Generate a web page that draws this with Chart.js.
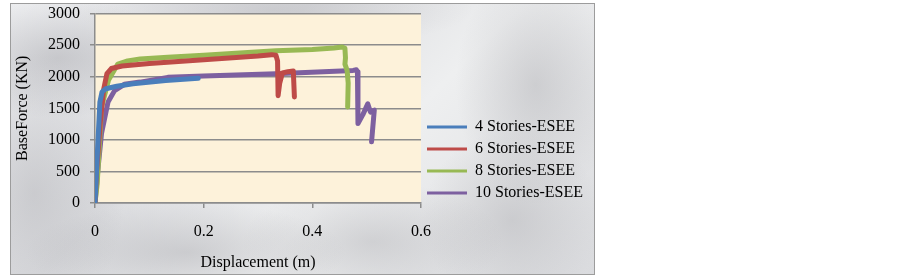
<!DOCTYPE html>
<html>
<head>
<meta charset="utf-8">
<script src="https://cdn.jsdelivr.net/npm/chart.js@4/dist/chart.umd.min.js"></script>
<style>
  html, body { margin: 0; padding: 0; background: #fff; }
  #frame {
    position: absolute; left: 10px; top: 3px; width: 585px; height: 272px;
    box-sizing: border-box; border: 1px solid #9c9c9c;
    background-color: #e4e5e8;
    background-image:
      radial-gradient(ellipse 120px 60px at 8% 20%, rgba(150,150,156,0.40), transparent),
      radial-gradient(ellipse 90px 140px at 4% 70%, rgba(160,160,165,0.35), transparent),
      radial-gradient(ellipse 160px 50px at 30% 92%, rgba(140,140,146,0.30), transparent),
      radial-gradient(ellipse 130px 60px at 62% 88%, rgba(150,150,155,0.30), transparent),
      radial-gradient(ellipse 80px 120px at 90% 30%, rgba(155,155,160,0.35), transparent),
      radial-gradient(ellipse 90px 90px at 86% 80%, rgba(150,150,155,0.30), transparent),
      radial-gradient(ellipse 200px 40px at 45% 2%, rgba(160,160,165,0.30), transparent),
      linear-gradient(135deg, #eeeff1 0%, #dcdde0 35%, #eeeff0 60%, #dadbde 100%);
  }
  #chart { position: absolute; left: 0; top: -10px; }
</style>
</head>
<body>
<div id="frame"><canvas id="chart" width="583" height="280"></canvas></div>
<script>
// Pushover curves: displacement (m) and base force (kN)
const seriesNames = ['4 Stories-ESEE', '6 Stories-ESEE', '8 Stories-ESEE', '10 Stories-ESEE'];
const seriesColors = ['#4a7ebb', '#be4b48', '#98b954', '#7d60a0'];

const disp4 = [0, 0.005, 0.009, 0.013, 0.02, 0.04, 0.07, 0.13, 0.19];
const force4 = [0, 900, 1600, 1760, 1810, 1850, 1890, 1940, 1975];

const disp6 = [0, 0.003, 0.01, 0.016, 0.022, 0.03, 0.05, 0.1, 0.2, 0.3, 0.325, 0.333, 0.336, 0.337, 0.34, 0.345, 0.355, 0.365, 0.367];
const force6 = [0, 500, 1300, 1800, 2050, 2130, 2170, 2210, 2270, 2330, 2350, 2340, 2250, 1700, 1900, 2060, 2080, 2090, 1680];

const disp8 = [0, 0.004, 0.012, 0.025, 0.042, 0.06, 0.083, 0.134, 0.2, 0.333, 0.4, 0.44, 0.455, 0.46, 0.461, 0.46, 0.464, 0.466, 0.465];
const force8 = [0, 300, 1520, 1950, 2200, 2250, 2280, 2308, 2340, 2413, 2430, 2455, 2470, 2450, 2300, 2200, 2100, 1900, 1520];

const disp10 = [0, 0.005, 0.012, 0.024, 0.036, 0.054, 0.083, 0.134, 0.2, 0.333, 0.42, 0.475, 0.481, 0.483, 0.484, 0.493, 0.502, 0.507, 0.514, 0.509];
const force10 = [0, 500, 1100, 1600, 1780, 1880, 1915, 1990, 2010, 2046, 2080, 2100, 2110, 2080, 1260, 1400, 1570, 1440, 1470, 970];

const xTicksMax = 0.6;
const yTicksMax = 3000;

const allX = [disp4, disp6, disp8, disp10];
const allY = [force4, force6, force8, force10];

const datasets = seriesNames.map((name, i) => ({
  label: name,
  data: allX[i].map((x, j) => ({ x: x, y: allY[i][j] })),
  borderColor: seriesColors[i],
  backgroundColor: seriesColors[i],
  borderWidth: 5,
  borderCapStyle: 'round',
  borderJoinStyle: 'round',
  showLine: true,
  pointRadius: 0,
  tension: 0
}));

const plotBg = {
  id: 'plotBg',
  beforeDraw(chart) {
    const { ctx, chartArea: a } = chart;
    ctx.save();
    ctx.fillStyle = '#fdf2da';
    ctx.fillRect(a.left, a.top, a.right - a.left, a.bottom - a.top);
    ctx.restore();
  }
};

// the legend column is given a fixed width so the plot ends where the reference does
const legendWidth = {
  id: 'legendWidth',
  beforeLayout(chart) {
    const lg = chart.legend;
    if (lg && !lg._fixedWidth) {
      const fit = lg.fit.bind(lg);
      lg.fit = function () { fit(); this.width = 173; };
      lg._fixedWidth = true;
    }
  }
};

const serif = 'Liberation Serif';
const gridGray = '#8c8c8c';

new Chart(document.getElementById('chart'), {
  type: 'scatter',
  data: { datasets: datasets },
  plugins: [plotBg, legendWidth],
  options: {
    responsive: false,
    animation: false,
    layout: { padding: 0 },
    plugins: {
      tooltip: { enabled: false },
      legend: {
        position: 'right',
        align: 'center',
        title: { display: true, text: ' ', font: { family: serif, size: 16 }, padding: { top: 0, bottom: 33 } },
        labels: {
          font: { family: serif, size: 16 },
          color: '#000',
          boxWidth: 40,
          boxHeight: 3,
          padding: 6,
          generateLabels: chart => chart.data.datasets.map((ds, i) => ({
            text: ds.label,
            fillStyle: ds.borderColor,
            strokeStyle: ds.borderColor,
            fontColor: '#000',
            lineWidth: 0,
            hidden: false,
            datasetIndex: i
          }))
        }
      }
    },
    scales: {
      x: {
        type: 'linear',
        min: 0,
        max: xTicksMax,
        afterFit: s => { s.height = 71; },
        ticks: {
          stepSize: 0.2,
          padding: 14,
          color: '#000',
          font: { family: serif, size: 16 },
          callback: v => String(+v.toFixed(1))
        },
        grid: { drawOnChartArea: false, drawTicks: true, tickLength: 5, color: gridGray, lineWidth: 1.5 },
        border: { display: true, color: gridGray, width: 1.5 },
        title: { display: true, text: 'Displacement (m)', color: '#000', font: { family: serif, size: 16 }, padding: { top: 4, bottom: 2 } }
      },
      y: {
        min: 0,
        max: yTicksMax,
        afterFit: s => { s.width = 84; },
        ticks: {
          stepSize: 500,
          padding: 10,
          color: '#000',
          font: { family: serif, size: 16 },
          callback: v => String(v)
        },
        grid: { drawTicks: true, tickLength: 5, color: gridGray, lineWidth: 1.5 },
        border: { display: true, color: gridGray, width: 1.5 },
        title: { display: true, text: 'BaseForce (KN)', color: '#000', font: { family: serif, size: 16 }, padding: { top: 2, bottom: 2 } }
      }
    }
  }
});
</script>
</body>
</html>
